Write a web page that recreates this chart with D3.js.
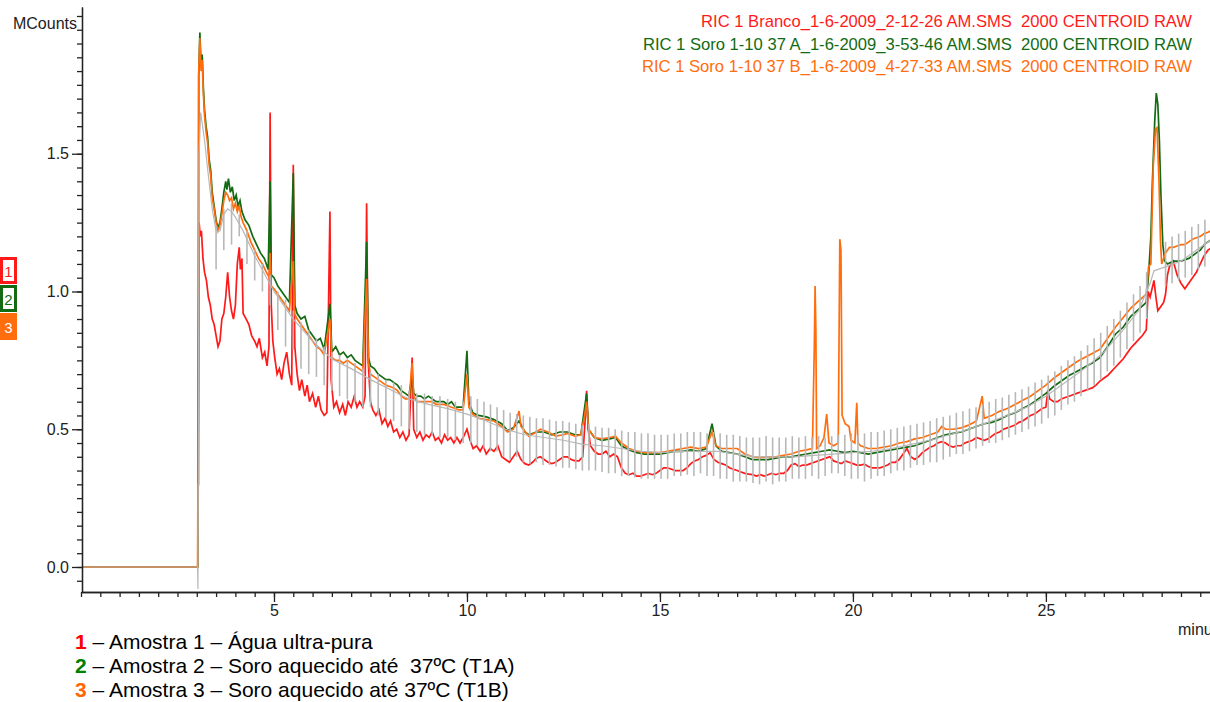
<!DOCTYPE html>
<html>
<head>
<meta charset="utf-8">
<script src="https://cdn.jsdelivr.net/npm/d3@7"></script>
<style>
body { margin: 0; background: #fff; }
svg { display: block; font-family: "Liberation Sans", Arial, sans-serif; }
text { white-space: pre; }
</style>
</head>
<body>
<svg id="chart" width="1210" height="702"></svg>
<script>
// RIC traces, [minutes, MCounts]
var ricBranco = [
[0,0],[3.03,0],[3.06,1.25],[3.09,1.20],[3.12,1.22],[3.16,1.12],[3.2,1.07],[3.25,1.04],[3.3,0.98],[3.35,0.95],
[3.4,0.90],[3.45,0.88],[3.5,0.84],[3.55,0.80],[3.6,0.82],[3.65,0.90],[3.7,0.92],[3.75,0.98],[3.8,1.07],[3.85,0.98],
[3.9,0.93],[3.95,0.90],[4.0,0.95],[4.05,1.10],[4.1,1.16],[4.13,1.08],[4.17,1.12],[4.2,0.92],[4.28,0.90],[4.35,0.88],
[4.42,0.84],[4.5,0.82],[4.56,0.80],[4.62,0.83],[4.7,0.76],[4.76,0.78],[4.82,0.73],[4.87,0.80],[4.9,1.65],[4.93,0.95],
[4.97,0.82],[5.02,0.76],[5.08,0.70],[5.14,0.72],[5.2,0.68],[5.26,0.74],[5.33,0.78],[5.4,0.70],[5.46,0.66],[5.5,1.46],
[5.54,0.80],[5.6,0.70],[5.66,0.64],[5.72,0.68],[5.8,0.62],[5.86,0.66],[5.92,0.60],[6.0,0.63],[6.08,0.58],[6.15,0.62],
[6.22,0.57],[6.3,0.55],[6.37,0.56],[6.45,1.29],[6.48,0.68],[6.55,0.58],[6.62,0.60],[6.7,0.56],[6.78,0.59],[6.85,0.55],
[6.92,0.60],[7.0,0.58],[7.08,0.62],[7.15,0.58],[7.22,0.60],[7.3,0.58],[7.36,0.62],[7.4,1.32],[7.44,0.75],[7.5,0.60],
[7.56,0.57],[7.64,0.55],[7.72,0.57],[7.8,0.52],[7.88,0.54],[7.95,0.51],[8.02,0.53],[8.1,0.49],[8.18,0.50],[8.26,0.47],
[8.34,0.49],[8.42,0.46],[8.5,0.48],[8.58,0.76],[8.62,0.50],[8.7,0.47],[8.78,0.49],[8.86,0.46],[8.94,0.48],[9.02,0.47],
[9.1,0.49],[9.18,0.46],[9.26,0.47],[9.34,0.45],[9.42,0.48],[9.5,0.46],[9.58,0.47],[9.66,0.45],[9.74,0.47],[9.82,0.45],
[9.9,0.47],[10.0,0.50],[10.08,0.46],[10.16,0.43],[10.25,0.44],[10.34,0.42],[10.42,0.44],[10.5,0.41],[10.6,0.43],[10.7,0.42],
[10.8,0.44],[10.9,0.40],[11.0,0.39],[11.1,0.38],[11.2,0.40],[11.3,0.42],[11.4,0.39],[11.5,0.375],[11.6,0.37],[11.7,0.38],
[11.8,0.395],[11.9,0.40],[12.0,0.39],[12.1,0.38],[12.2,0.375],[12.3,0.38],[12.4,0.39],[12.5,0.40],[12.6,0.40],[12.7,0.39],
[12.8,0.385],[12.9,0.385],[13.0,0.40],[13.07,0.55],[13.1,0.64],[13.14,0.50],[13.2,0.44],[13.3,0.42],[13.4,0.41],[13.5,0.41],
[13.6,0.42],[13.7,0.40],[13.8,0.41],[13.9,0.40],[14.0,0.36],[14.1,0.34],[14.2,0.335],[14.3,0.34],[14.4,0.33],[14.5,0.33],
[14.6,0.335],[14.7,0.34],[14.8,0.335],[14.9,0.34],[15.0,0.35],[15.1,0.36],[15.2,0.36],[15.3,0.355],[15.4,0.35],[15.5,0.35],
[15.6,0.35],[15.7,0.36],[15.8,0.375],[15.9,0.385],[16.0,0.39],[16.1,0.40],[16.2,0.405],[16.3,0.415],[16.4,0.39],[16.5,0.38],
[16.6,0.375],[16.7,0.37],[16.8,0.36],[16.9,0.355],[17.0,0.35],[17.1,0.345],[17.2,0.34],[17.3,0.337],[17.4,0.335],[17.5,0.33],
[17.6,0.335],[17.7,0.33],[17.8,0.335],[17.9,0.34],[18.0,0.335],[18.1,0.34],[18.2,0.34],[18.3,0.35],[18.4,0.37],[18.5,0.375],
[18.6,0.365],[18.7,0.37],[18.8,0.37],[18.9,0.375],[19.0,0.38],[19.1,0.385],[19.2,0.39],[19.3,0.395],[19.4,0.40],[19.5,0.385],
[19.6,0.38],[19.7,0.375],[19.8,0.385],[19.9,0.38],[20.0,0.375],[20.1,0.37],[20.2,0.37],[20.3,0.373],[20.4,0.365],[20.5,0.36],
[20.6,0.36],[20.7,0.36],[20.8,0.365],[20.9,0.37],[21.0,0.38],[21.1,0.38],[21.2,0.39],[21.3,0.41],[21.4,0.43],[21.5,0.40],
[21.6,0.39],[21.7,0.40],[21.8,0.415],[21.9,0.425],[22.0,0.435],[22.1,0.44],[22.2,0.45],[22.3,0.455],[22.4,0.45],[22.5,0.44],
[22.6,0.435],[22.7,0.44],[22.8,0.44],[22.9,0.45],[23.0,0.455],[23.1,0.46],[23.2,0.47],[23.3,0.465],[23.4,0.46],[23.5,0.465],
[23.6,0.475],[23.7,0.485],[23.8,0.49],[23.9,0.50],[24.0,0.505],[24.1,0.51],[24.2,0.515],[24.3,0.525],[24.4,0.53],[24.5,0.54],
[24.6,0.55],[24.7,0.555],[24.8,0.565],[24.9,0.575],[25.0,0.58],[25.05,0.64],[25.1,0.61],[25.2,0.60],[25.3,0.60],[25.4,0.61],
[25.5,0.615],[25.6,0.62],[25.7,0.625],[25.8,0.63],[25.9,0.635],[26.0,0.64],[26.1,0.645],[26.2,0.65],[26.3,0.66],[26.4,0.675],
[26.5,0.685],[26.6,0.695],[26.7,0.71],[26.8,0.725],[26.9,0.74],[27.0,0.755],[27.1,0.775],[27.2,0.795],[27.3,0.81],[27.4,0.825],
[27.5,0.84],[27.6,0.86],[27.65,1.0],[27.7,0.98],[27.8,1.04],[27.85,0.98],[27.9,0.93],[28.0,0.95],[28.05,0.96],[28.1,0.99],
[28.15,1.06],[28.2,1.09],[28.3,1.11],[28.4,1.06],[28.5,1.03],[28.6,1.01],[28.7,1.03],[28.8,1.05],[28.9,1.07],[29.0,1.10],
[29.1,1.13],[29.2,1.15],[29.4,1.17]
];

var ricSoroA = [
[0,0],[3.03,0],[3.05,1.78],[3.08,1.94],[3.11,1.82],[3.14,1.86],[3.17,1.74],[3.2,1.66],[3.24,1.60],[3.28,1.56],
[3.32,1.48],[3.36,1.44],[3.4,1.36],[3.45,1.31],[3.5,1.26],[3.55,1.23],[3.6,1.25],[3.65,1.30],[3.7,1.36],[3.75,1.40],
[3.78,1.37],[3.82,1.41],[3.87,1.36],[3.92,1.38],[3.97,1.33],[4.02,1.35],[4.07,1.31],[4.12,1.33],[4.17,1.29],[4.25,1.26],
[4.35,1.24],[4.45,1.20],[4.55,1.17],[4.65,1.14],[4.75,1.12],[4.85,1.08],[4.9,1.40],[4.93,1.06],[5.0,1.05],[5.1,1.02],
[5.2,1.00],[5.3,0.98],[5.4,0.96],[5.5,1.43],[5.54,0.95],[5.6,0.92],[5.7,0.90],[5.8,0.91],[5.9,0.86],[6.0,0.84],
[6.1,0.82],[6.2,0.83],[6.3,0.79],[6.45,0.955],[6.5,0.78],[6.6,0.80],[6.7,0.77],[6.8,0.78],[6.9,0.76],[7.0,0.77],
[7.1,0.75],[7.2,0.74],[7.3,0.73],[7.4,1.18],[7.45,0.76],[7.5,0.73],[7.6,0.72],[7.7,0.70],[7.8,0.69],[7.9,0.68],
[8.0,0.68],[8.1,0.67],[8.2,0.66],[8.3,0.64],[8.4,0.63],[8.5,0.62],[8.58,0.70],[8.62,0.63],[8.7,0.62],[8.8,0.62],
[8.9,0.61],[9.0,0.62],[9.1,0.61],[9.2,0.60],[9.3,0.60],[9.4,0.60],[9.5,0.59],[9.6,0.60],[9.7,0.58],[9.8,0.58],
[9.9,0.58],[10.0,0.785],[10.05,0.60],[10.15,0.56],[10.3,0.55],[10.5,0.545],[10.7,0.535],[10.9,0.52],[11.05,0.495],[11.2,0.505],
[11.35,0.53],[11.5,0.49],[11.6,0.48],[11.8,0.49],[12.0,0.49],[12.2,0.48],[12.4,0.49],[12.6,0.49],[12.8,0.48],[12.95,0.48],
[13.05,0.58],[13.1,0.63],[13.15,0.50],[13.3,0.47],[13.5,0.46],[13.7,0.465],[13.85,0.47],[14.0,0.44],[14.2,0.425],[14.4,0.415],
[14.6,0.41],[14.8,0.41],[15.0,0.41],[15.2,0.415],[15.4,0.42],[15.6,0.42],[15.8,0.425],[16.0,0.42],[16.2,0.43],[16.35,0.52],
[16.45,0.44],[16.6,0.42],[16.8,0.415],[17.0,0.41],[17.2,0.40],[17.4,0.39],[17.6,0.39],[17.8,0.39],[18.0,0.395],[18.2,0.40],
[18.4,0.40],[18.6,0.405],[18.8,0.41],[19.0,0.415],[19.2,0.42],[19.4,0.425],[19.6,0.42],[19.8,0.415],[20.0,0.42],[20.2,0.415],
[20.4,0.41],[20.6,0.415],[20.8,0.42],[21.0,0.425],[21.2,0.43],[21.4,0.435],[21.6,0.44],[21.8,0.45],[22.0,0.46],[22.2,0.47],
[22.4,0.48],[22.6,0.485],[22.8,0.49],[23.0,0.50],[23.2,0.51],[23.4,0.52],[23.6,0.525],[23.8,0.535],[24.0,0.55],[24.2,0.56],
[24.4,0.575],[24.6,0.59],[24.8,0.61],[25.0,0.63],[25.2,0.655],[25.4,0.675],[25.6,0.695],[25.8,0.71],[26.0,0.725],[26.2,0.74],
[26.4,0.76],[26.6,0.80],[26.8,0.845],[27.0,0.87],[27.2,0.91],[27.4,0.935],[27.6,0.96],[27.66,1.06],[27.72,1.20],[27.76,1.40],
[27.82,1.62],[27.86,1.72],[27.9,1.68],[27.94,1.55],[27.98,1.35],[28.03,1.17],[28.08,1.11],[28.15,1.10],[28.3,1.11],[28.5,1.11],
[28.7,1.12],[28.9,1.14],[29.0,1.15],[29.1,1.17],[29.2,1.18],[29.4,1.20]
];

var ricSoroB = [
[0,0],[3.02,0],[3.03,0.30],[3.045,0.30],[3.05,1.80],[3.08,1.92],[3.11,1.80],[3.14,1.84],[3.17,1.72],[3.2,1.64],
[3.24,1.58],[3.28,1.54],[3.32,1.46],[3.36,1.42],[3.4,1.34],[3.45,1.30],[3.5,1.25],[3.55,1.22],[3.6,1.24],[3.65,1.28],
[3.7,1.33],[3.75,1.36],[3.8,1.35],[3.85,1.33],[3.9,1.34],[3.95,1.30],[4.0,1.32],[4.05,1.29],[4.1,1.31],[4.15,1.27],
[4.2,1.25],[4.3,1.22],[4.4,1.18],[4.5,1.15],[4.6,1.12],[4.7,1.10],[4.8,1.07],[4.88,1.05],[4.9,1.14],[4.93,1.02],
[5.0,1.01],[5.1,0.99],[5.2,0.97],[5.3,0.95],[5.4,0.93],[5.5,1.11],[5.53,0.92],[5.6,0.90],[5.7,0.88],[5.8,0.86],
[5.9,0.84],[6.0,0.82],[6.1,0.80],[6.2,0.79],[6.3,0.77],[6.45,0.90],[6.5,0.76],[6.6,0.75],[6.7,0.75],[6.8,0.74],
[6.9,0.75],[7.0,0.74],[7.1,0.73],[7.2,0.72],[7.3,0.71],[7.4,1.045],[7.45,0.74],[7.5,0.70],[7.6,0.69],[7.7,0.68],
[7.8,0.67],[7.9,0.66],[8.0,0.655],[8.1,0.65],[8.2,0.64],[8.3,0.62],[8.4,0.61],[8.5,0.61],[8.58,0.74],[8.62,0.62],
[8.7,0.60],[8.8,0.60],[8.9,0.60],[9.0,0.60],[9.1,0.60],[9.2,0.59],[9.3,0.59],[9.4,0.59],[9.5,0.585],[9.6,0.58],
[9.7,0.575],[9.8,0.57],[9.9,0.57],[10.0,0.70],[10.05,0.58],[10.15,0.555],[10.3,0.54],[10.5,0.535],[10.7,0.53],[10.9,0.51],
[11.05,0.49],[11.2,0.50],[11.35,0.566],[11.4,0.51],[11.6,0.475],[11.8,0.49],[11.9,0.50],[12.1,0.49],[12.3,0.475],[12.5,0.48],
[12.6,0.485],[12.8,0.475],[12.95,0.48],[13.05,0.55],[13.1,0.60],[13.15,0.50],[13.3,0.47],[13.5,0.465],[13.7,0.47],[13.85,0.475],
[14.0,0.45],[14.2,0.43],[14.4,0.42],[14.6,0.415],[14.8,0.415],[15.0,0.415],[15.2,0.42],[15.4,0.425],[15.6,0.43],[15.8,0.435],
[16.0,0.43],[16.2,0.435],[16.35,0.49],[16.45,0.44],[16.6,0.43],[16.8,0.43],[17.0,0.43],[17.2,0.41],[17.4,0.40],[17.6,0.397],
[17.8,0.40],[18.0,0.40],[18.2,0.405],[18.4,0.41],[18.6,0.42],[18.8,0.425],[18.95,0.43],[19.0,0.80],[19.02,1.02],[19.04,0.86],
[19.06,0.43],[19.15,0.44],[19.25,0.47],[19.32,0.555],[19.38,0.45],[19.5,0.44],[19.62,0.45],[19.66,1.19],[19.69,1.15],[19.72,0.55],
[19.8,0.52],[19.9,0.51],[19.95,0.46],[20.05,0.45],[20.1,0.596],[20.13,0.45],[20.2,0.44],[20.4,0.43],[20.6,0.43],[20.8,0.435],
[21.0,0.44],[21.2,0.45],[21.4,0.455],[21.6,0.465],[21.8,0.47],[22.0,0.48],[22.2,0.49],[22.3,0.51],[22.4,0.50],[22.6,0.50],
[22.8,0.505],[23.0,0.515],[23.2,0.53],[23.35,0.62],[23.4,0.54],[23.6,0.55],[23.8,0.565],[24.0,0.575],[24.2,0.59],[24.4,0.605],
[24.6,0.62],[24.8,0.64],[25.0,0.66],[25.2,0.685],[25.4,0.705],[25.6,0.725],[25.8,0.745],[26.0,0.76],[26.2,0.775],[26.4,0.79],
[26.6,0.83],[26.8,0.87],[27.0,0.905],[27.2,0.94],[27.4,0.965],[27.6,0.99],[27.66,1.09],[27.72,1.10],[27.78,1.45],[27.84,1.59],
[27.88,1.595],[27.93,1.40],[27.97,1.18],[28.0,1.10],[28.05,1.12],[28.1,1.14],[28.2,1.16],[28.3,1.16],[28.4,1.165],[28.5,1.17],
[28.6,1.17],[28.7,1.18],[28.8,1.19],[28.9,1.195],[29.0,1.20],[29.1,1.21],[29.2,1.215],[29.4,1.23]
];

// unlabelled grey trace: smooth part and its spikes [minutes, low, high]
var greyTrace = [
[0,0],[3.02,0],[3.03,-0.08],[3.06,1.50],[3.1,1.65],[3.2,1.55],[3.3,1.42],[3.4,1.30],[3.5,1.22],[3.6,1.22],
[3.7,1.28],[3.8,1.30],[3.9,1.29],[4.0,1.27],[4.2,1.22],[4.5,1.13],[5.0,1.00],[5.5,0.90],[6.0,0.82],[6.5,0.755],
[7.0,0.72],[7.5,0.68],[8.0,0.645],[8.5,0.61],[9.0,0.59],[9.5,0.575],[10.0,0.555],[10.5,0.53],[11.0,0.50],[11.5,0.48],
[12.0,0.47],[12.5,0.46],[13.0,0.445],[13.5,0.44],[14.0,0.43],[14.5,0.42],[15.0,0.415],[15.5,0.42],[16.0,0.42],[16.5,0.42],
[17.0,0.41],[17.5,0.40],[18.0,0.40],[18.5,0.40],[19.0,0.405],[19.5,0.41],[20.0,0.415],[20.5,0.42],[21.0,0.43],[21.5,0.445],
[22.0,0.46],[22.5,0.48],[23.0,0.50],[23.5,0.525],[24.0,0.55],[24.5,0.58],[25.0,0.62],[25.5,0.67],[26.0,0.72],[26.5,0.78],
[27.0,0.86],[27.4,0.93],[27.7,1.03],[27.8,1.075],[28.0,1.085],[28.5,1.11],[29.0,1.16],[29.2,1.18],[29.4,1.20]
];

var greySpikes = [
[3.5,1.08,1.24],[3.7,1.15,1.30],[3.9,1.17,1.32],[4.1,1.20,1.28],[4.3,1.10,1.22],[4.5,1.04,1.15],[4.7,1.00,1.10],[4.9,0.95,1.06],
[5.1,0.86,1.00],[5.3,0.80,0.97],[5.5,0.79,0.93],[5.7,0.72,0.89],[5.9,0.70,0.86],[6.1,0.69,0.83],[6.3,0.66,0.80],[6.5,0.64,0.78],
[6.7,0.62,0.77],[6.9,0.61,0.75],[7.1,0.60,0.74],[7.3,0.58,0.72],[7.5,0.58,0.71],[7.7,0.55,0.70],[7.9,0.54,0.68],[8.1,0.53,0.67],
[8.3,0.51,0.66],[8.5,0.50,0.64],[8.7,0.49,0.63],[8.9,0.48,0.63],[9.1,0.48,0.62],[9.3,0.47,0.62],[9.5,0.47,0.61],[9.7,0.46,0.60],
[9.9,0.45,0.60],[10.1,0.45,0.62],[10.27,0.44,0.61],[10.44,0.43,0.60],[10.61,0.42,0.59],[10.78,0.42,0.58],[10.95,0.40,0.57],[11.12,0.39,0.56],
[11.29,0.40,0.555],[11.46,0.38,0.55],[11.63,0.375,0.545],[11.8,0.38,0.54],[11.97,0.37,0.54],[12.14,0.37,0.535],[12.31,0.365,0.53],[12.48,0.36,0.53],
[12.65,0.36,0.525],[12.82,0.355,0.52],[12.99,0.35,0.515],[13.16,0.35,0.52],[13.33,0.35,0.51],[13.5,0.345,0.505],[13.67,0.34,0.505],[13.84,0.34,0.50],
[14.01,0.33,0.495],[14.18,0.33,0.49],[14.35,0.325,0.49],[14.52,0.32,0.485],[14.69,0.32,0.485],[14.86,0.32,0.48],[15.03,0.32,0.48],[15.2,0.32,0.48],
[15.37,0.33,0.485],[15.54,0.33,0.485],[15.71,0.335,0.49],[15.88,0.33,0.49],[16.05,0.34,0.49],[16.22,0.33,0.485],[16.39,0.33,0.49],[16.56,0.32,0.485],
[16.73,0.32,0.48],[16.9,0.31,0.48],[17.07,0.31,0.475],[17.24,0.31,0.47],[17.41,0.305,0.47],[17.58,0.30,0.47],[17.75,0.31,0.475],[17.92,0.30,0.47],
[18.09,0.31,0.47],[18.26,0.31,0.47],[18.43,0.32,0.475],[18.6,0.32,0.47],[18.77,0.32,0.475],[18.94,0.33,0.47],[19.11,0.32,0.475],[19.28,0.33,0.47],
[19.45,0.34,0.475],[19.62,0.34,0.48],[19.79,0.33,0.48],[19.96,0.32,0.485],[20.13,0.32,0.48],[20.3,0.31,0.485],[20.47,0.32,0.49],[20.64,0.33,0.49],
[20.81,0.33,0.495],[20.98,0.34,0.50],[21.15,0.35,0.505],[21.32,0.35,0.51],[21.49,0.36,0.515],[21.66,0.37,0.52],[21.83,0.37,0.525],[22.0,0.38,0.53],
[22.17,0.38,0.54],[22.34,0.39,0.545],[22.51,0.40,0.55],[22.68,0.41,0.56],[22.85,0.41,0.565],[23.02,0.42,0.575],[23.19,0.43,0.58],[23.36,0.44,0.59],
[23.53,0.45,0.60],[23.7,0.45,0.61],[23.87,0.46,0.615],[24.04,0.47,0.625],[24.21,0.48,0.635],[24.38,0.49,0.645],[24.55,0.50,0.655],[24.72,0.51,0.67],
[24.89,0.52,0.68],[25.06,0.54,0.695],[25.23,0.55,0.71],[25.4,0.57,0.73],[25.57,0.59,0.75],[25.74,0.60,0.765],[25.91,0.62,0.785],[26.08,0.64,0.805],
[26.25,0.66,0.83],[26.42,0.68,0.85],[26.59,0.71,0.875],[26.76,0.73,0.90],[26.93,0.76,0.93],[27.1,0.79,0.96],[27.27,0.82,0.99],[27.44,0.85,1.02],
[27.61,0.90,1.07],[28.1,1.02,1.18],[28.27,1.03,1.20],[28.44,1.04,1.21],[28.61,1.05,1.22],[28.78,1.06,1.235],[28.95,1.08,1.245],[29.12,1.09,1.26]
];

var seriesNames = [
  "RIC 1 Branco_1-6-2009_2-12-26 AM.SMS  2000 CENTROID RAW",
  "RIC 1 Soro 1-10 37 A_1-6-2009_3-53-46 AM.SMS  2000 CENTROID RAW",
  "RIC 1 Soro 1-10 37 B_1-6-2009_4-27-33 AM.SMS  2000 CENTROID RAW"
];
var seriesColors = ["#ff1a1a", "#126b12", "#ff6d0d"];
var captionLines = [
  " \u2013 Amostra 1 \u2013 \u00c1gua ultra-pura",
  " \u2013 Amostra 2 \u2013 Soro aquecido at\u00e9  37\u00baC (T1A)",
  " \u2013 Amostra 3 \u2013 Soro aquecido at\u00e9 37\u00baC (T1B)"
];
var xMajorTicks = [5, 10, 15, 20, 25];
var yMajorTicks = [0, 0.5, 1.0, 1.5];
var yTickLabels = ["0.0", "0.5", "1.0", "1.5"];

var svg = d3.select("#chart");

var x = d3.scaleLinear().domain([0, 29.77]).range([81, 1230]);
var y = d3.scaleLinear().domain([-0.0926, 2.0326]).range([592.5, 7]);

svg.append("defs").append("clipPath").attr("id", "plot")
  .append("rect").attr("x", 83).attr("y", 0).attr("width", 1130).attr("height", 592);

var line = d3.line()
  .x(function(d) { return x(d[0]); })
  .y(function(d) { return y(d[1]); });

var plot = svg.append("g").attr("clip-path", "url(#plot)");

[ricBranco, ricSoroA, ricSoroB].forEach(function(s, i) {
  plot.append("path")
    .attr("d", line(s))
    .attr("fill", "none")
    .attr("stroke", seriesColors[i])
    .attr("stroke-width", 1.7)
    .attr("stroke-linejoin", "miter");
});

plot.append("path")
  .attr("d", line(greyTrace))
  .attr("fill", "none")
  .attr("stroke", "#b8b8b8")
  .attr("stroke-width", 1.2);

plot.selectAll(".spk")
  .data(greySpikes)
  .enter().append("line")
  .attr("class", "spk")
  .attr("x1", function(d) { return x(d[0]); })
  .attr("x2", function(d) { return x(d[0]); })
  .attr("y1", function(d) { return y(d[1]); })
  .attr("y2", function(d) { return y(d[2]); })
  .attr("stroke", "#b8b8b8")
  .attr("stroke-width", 1.6);

// axes
var yMinor = svg.append("g").attr("transform", "translate(82,0)")
  .call(d3.axisLeft(y).ticks(40).tickSize(5).tickSizeOuter(0).tickFormat(""));
var yMajor = svg.append("g").attr("transform", "translate(82,0)")
  .call(d3.axisLeft(y).tickValues(yMajorTicks).tickSize(10).tickSizeOuter(0)
    .tickFormat(function(d, i) { return yTickLabels[i]; }));

var xMinor = svg.append("g").attr("transform", "translate(0,592)")
  .call(d3.axisBottom(x).ticks(60).tickSize(5).tickSizeOuter(0).tickFormat(""));
var xMajor = svg.append("g").attr("transform", "translate(0,592)")
  .call(d3.axisBottom(x).tickValues(xMajorTicks).tickSize(10).tickSizeOuter(0));

svg.selectAll(".tick line, .domain").attr("stroke", "#222").attr("stroke-width", 1.3);
svg.selectAll(".tick text").attr("fill", "#222").style("font-size", "16px")
  .style("font-family", "'Liberation Sans', Arial, sans-serif");
xMinor.select(".domain").attr("d", "M82,0.5H1230");

svg.append("text").attr("x", 77).attr("y", 29).attr("text-anchor", "end")
  .attr("fill", "#222").style("font-size", "16px").text("MCounts");
svg.append("text").attr("x", 1178).attr("y", 635)
  .attr("fill", "#222").style("font-size", "16px").text("minutes");

// legend of the traces
svg.selectAll(".leg")
  .data(seriesNames)
  .enter().append("text")
  .attr("class", "leg")
  .attr("xml:space", "preserve")
  .attr("x", 1192)
  .attr("y", function(d, i) { return 27 + i * 22.5; })
  .attr("text-anchor", "end")
  .attr("fill", function(d, i) { return seriesColors[i]; })
  .style("font-size", "16.6px")
  .text(function(d) { return d; });

// numbered boxes on the left
var boxes = svg.selectAll(".box").data(seriesColors).enter().append("g")
  .attr("transform", function(d, i) { return "translate(0," + (257 + i * 28) + ")"; });
boxes.append("rect").attr("width", 17).attr("height", 27).attr("fill", function(d) { return d; });
boxes.filter(function(d, i) { return i < 2; }).append("rect")
  .attr("x", 3).attr("y", 3).attr("width", 11).attr("height", 21).attr("fill", "#fff");
boxes.append("text").attr("x", 8.5).attr("y", 20).attr("text-anchor", "middle")
  .style("font-size", "15px")
  .attr("fill", function(d, i) { return i < 2 ? d : "#fff"; })
  .text(function(d, i) { return String(i + 1); });

// caption
var cap = svg.selectAll(".cap").data(captionLines).enter().append("text")
  .attr("xml:space", "preserve")
  .attr("x", 75).attr("y", function(d, i) { return 649 + i * 24; })
  .style("font-size", "21px").attr("fill", "#000");
cap.append("tspan").attr("font-weight", "bold")
  .attr("fill", function(d, i) { return ["#ff0000", "#008000", "#ff6600"][i]; })
  .text(function(d, i) { return String(i + 1); });
cap.append("tspan").text(function(d) { return d; });
</script>
</body>
</html>
